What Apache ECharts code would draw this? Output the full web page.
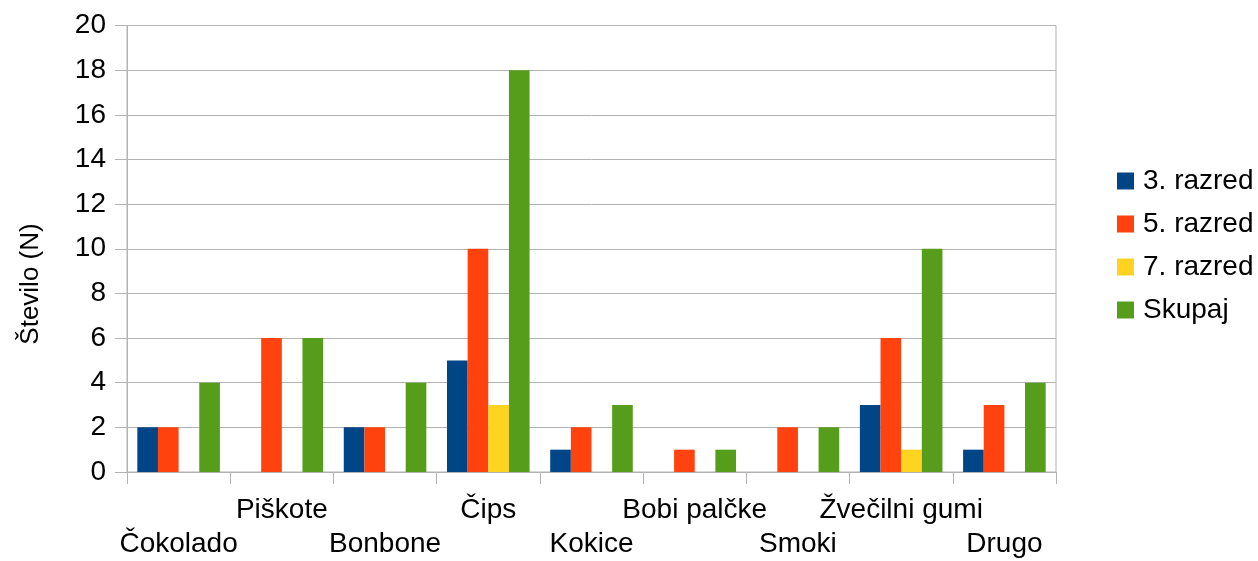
<!DOCTYPE html>
<html>
<head>
<meta charset="utf-8">
<script src="https://cdn.jsdelivr.net/npm/echarts@6/dist/echarts.min.js"></script>
<style>
  html, body { margin: 0; padding: 0; background: #fff; }
  #chart { width: 1258px; height: 561px; }
</style>
</head>
<body>
<div id="chart"></div>
<script>
// Snack preferences by grade
const categories = ['Čokolado', 'Piškote', 'Bonbone', 'Čips', 'Kokice', 'Bobi palčke', 'Smoki', 'Žvečilni gumi', 'Drugo'];
const seriesNames = ['3. razred', '5. razred', '7. razred', 'Skupaj'];
const grade3 = [2, 0, 2, 5, 1, 0, 0, 3, 1];
const grade5 = [2, 6, 2, 10, 2, 1, 2, 6, 3];
const grade7 = [0, 0, 0, 3, 0, 0, 0, 1, 0];
const total  = [4, 6, 4, 18, 3, 1, 2, 10, 4];
const yAxisTitle = 'Število (N)';

const colors = ['#004586', '#ff420e', '#ffd320', '#579d1c'];
const FONT = 'Liberation Sans';
const FS = 28;
const GRID = '#b3b3b3';

const chart = echarts.init(document.getElementById('chart'), null, { renderer: 'canvas' });

const values = [grade3, grade5, grade7, total];

chart.setOption({
  animation: false,
  textStyle: { fontFamily: FONT, color: '#000' },
  grid: {
    left: 127, right: 202, top: 25.5, bottom: 87,
    show: true, borderColor: GRID, borderWidth: 1
  },
  legend: {
    orient: 'vertical',
    left: 1117, top: 167,
    padding: 0,
    itemWidth: 17, itemHeight: 17, itemGap: 15,
    icon: 'rect',
    textStyle: { fontFamily: FONT, fontSize: FS, color: '#000', padding: [0, 0, 0, 4] },
    data: seriesNames
  },
  xAxis: {
    type: 'category',
    data: categories,
    axisLine: { lineStyle: { color: GRID } },
    axisTick: { show: true, length: 12, lineStyle: { color: GRID } },
    axisLabel: {
      interval: 0,
      margin: 21,
      fontFamily: FONT, fontSize: FS, color: '#000',
      lineHeight: 34,
      formatter: (v, i) => (i % 2 === 0 ? '\n' + v : v)
    },
    splitLine: { show: false }
  },
  yAxis: {
    type: 'value',
    min: 0, max: 20, interval: 2,
    axisLine: { show: true, lineStyle: { color: GRID } },
    axisTick: { show: true, length: 12, lineStyle: { color: GRID } },
    axisLabel: { margin: 21, fontFamily: FONT, fontSize: FS, color: '#000' },
    splitLine: { lineStyle: { color: GRID } }
  },
  graphic: [{
    type: 'text',
    x: 31, y: 284,
    rotation: Math.PI / 2,
    style: {
      text: yAxisTitle,
      font: `26px "${FONT}"`,
      fill: '#000',
      align: 'center',
      verticalAlign: 'middle'
    }
  }],
  series: seriesNames.map((name, i) => ({
    name,
    type: 'bar',
    data: values[i],
    barGap: '0%',
    barCategoryGap: '20%',
    itemStyle: { color: colors[i] }
  }))
});
</script>
</body>
</html>
